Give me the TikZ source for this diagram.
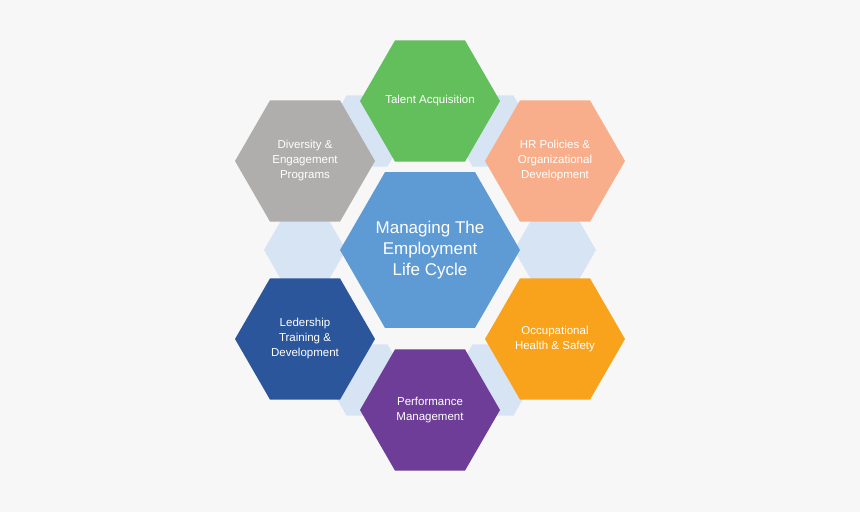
\documentclass[tikz,border=0pt]{standalone}
\usepackage{fontspec}
\setmainfont{Liberation Sans}
\usetikzlibrary{shapes.geometric}
\definecolor{bg}{HTML}{F7F7F7}
\definecolor{lb}{HTML}{D7E4F4}
\definecolor{cgreen}{HTML}{63BE5C}
\definecolor{csalmon}{HTML}{F8AE8A}
\definecolor{cgray}{HTML}{B0AEAC}
\definecolor{cdblue}{HTML}{2C569B}
\definecolor{corange}{HTML}{F9A31C}
\definecolor{cpurple}{HTML}{6E3D97}
\definecolor{ccenter}{HTML}{5E9BD4}
\begin{document}
\begin{tikzpicture}[x=1pt,y=-1pt,
 hex/.style={regular polygon,regular polygon sides=6,inner sep=0pt,draw=none},
 outer/.style={hex,minimum size=140pt},
 link/.style={hex,minimum size=82pt,fill=lb},
 lab/.style={text=white,align=center,inner sep=0pt,font=\fontsize{11.5}{15}\selectfont}]
\fill[bg] (0,0) rectangle (860,512);
\useasboundingbox (0,0) rectangle (860,512);
\node[link] (l1) at (367,131) {};
\node[link] (l2) at (493,131) {};
\node[link] (l3) at (305,250) {};
\node[link] (l4) at (555,250) {};
\node[link] (l5) at (367,380) {};
\node[link] (l6) at (493,380) {};
\node[outer,fill=cgreen] (ta) at (430,101) {};
\node[outer,fill=csalmon] (hr) at (555,161) {};
\node[outer,fill=cgray] (dv) at (305,161) {};
\node[outer,fill=cdblue] (ld) at (305,339) {};
\node[outer,fill=corange] (oh) at (555,339) {};
\node[outer,fill=cpurple] (pm) at (430,410) {};
\node[hex,minimum size=180pt,fill=ccenter] (c) at (430,250) {};
\node[lab] (tat) at (ta) {Talent Acquisition};
\node[lab] (hrt) at (hr) {HR Policies \&\\Organizational\\Development};
\node[lab] (dvt) at (dv) {Diversity \&\\Engagement\\Programs};
\node[lab] (ldt) at (ld) {Ledership\\Training \&\\Development};
\node[lab] (oht) at (oh) {Occupational\\Health \& Safety};
\node[lab] (pmt) at (pm) {Performance\\Management};
\node[lab,font=\fontsize{17}{21}\selectfont] (ct) at (c) {Managing The\\Employment\\Life Cycle};
\end{tikzpicture}
\end{document}
